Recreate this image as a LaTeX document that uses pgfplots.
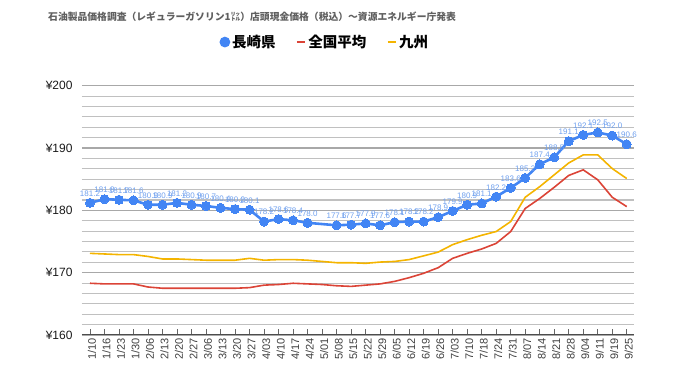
\documentclass[border=0pt]{standalone}
\usepackage{pgfplots}
\pgfplotsset{compat=1.18}
\usepackage{fontspec}
\setmainfont{Liberation Sans}
\newfontfamily\cjk{Noto Sans CJK JP}
\definecolor{nagasaki}{HTML}{4285F4}
\definecolor{zenkoku}{HTML}{DB4437}
\definecolor{kyushu}{HTML}{F4B400}
\definecolor{lbl}{HTML}{6FA0EE}
\definecolor{ttl}{HTML}{5F5F5F}
\definecolor{majgrid}{HTML}{A8A8A8}
\definecolor{mingrid}{HTML}{C0C0C0}

\pgfplotstableread{
x y
0 181.2
1 181.8
2 181.7
3 181.6
4 180.9
5 180.9
6 181.2
7 180.9
8 180.7
9 180.4
10 180.2
11 180.1
12 178.2
13 178.6
14 178.4
15 178.0
17 177.6
18 177.7
19 177.9
20 177.6
21 178.1
22 178.2
23 178.2
24 178.9
25 179.9
26 180.9
27 181.1
28 182.2
29 183.6
30 185.2
31 187.4
32 188.5
33 191.1
34 192.1
35 192.5
36 192.0
37 190.6
}\nagasakitbl

\pgfplotstableread{
x y
0 168.3
1 168.2
2 168.2
3 168.2
4 167.7
5 167.5
6 167.5
7 167.5
8 167.5
9 167.5
10 167.5
11 167.6
12 168.0
13 168.1
14 168.3
15 168.2
16 168.1
17 167.9
18 167.8
19 168.0
20 168.2
21 168.6
22 169.2
23 169.9
24 170.8
25 172.3
26 173.1
27 173.8
28 174.7
29 176.6
30 180.3
31 181.9
32 183.7
33 185.6
34 186.5
35 184.9
36 182.1
37 180.6
}\zenkokutbl

\pgfplotstableread{
x y
0 173.1
1 173.0
2 172.9
3 172.9
4 172.6
5 172.2
6 172.2
7 172.1
8 172.0
9 172.0
10 172.0
11 172.3
12 172.0
13 172.1
14 172.1
15 172.0
16 171.8
17 171.6
18 171.6
19 171.5
20 171.7
21 171.8
22 172.1
23 172.7
24 173.3
25 174.5
26 175.3
27 176.0
28 176.6
29 178.2
30 182.1
31 183.8
32 185.7
33 187.6
34 188.9
35 188.9
36 186.7
37 185.1
}\kyushutbl

\begin{document}
\begin{tikzpicture}
\begin{axis}[
  anchor=south west, at={(0pt,0pt)},
  scale only axis, width=552pt, height=249.3pt,
  xmin=-0.55, xmax=37.5, ymin=160, ymax=200,
  axis x line=bottom, axis y line=left,
  x axis line style={-, draw=black!70, line width=1pt},
  y axis line style={draw=none},
  xtick={0,...,37},
  xticklabels={1/10,1/16,1/23,1/30,2/06,2/13,2/20,2/27,3/06,3/13,3/20,3/27,4/03,4/10,4/17,4/24,5/01,5/08,5/15,5/22,5/29,6/05,6/12,6/19,6/26,7/03,7/10,7/18,7/24,7/31,8/07,8/14,8/21,8/28,9/04,9/11,9/19,9/25},
  xtick align=inside,
  ytick align=outside,
  major tick length=6pt,
  minor tick length=0pt,
  xtick style={draw=black!60, line width=0.6pt},
  xticklabel style={rotate=90, anchor=east, yshift=-2pt, font=\fontsize{11}{12}\selectfont, text=black!75},
  ytick={160,170,180,190,200},
  yticklabels={¥160,¥170,¥180,¥190,¥200},
  minor ytick={161.6667,163.3333,165,166.6667,168.3333,171.6667,173.3333,175,176.6667,178.3333,181.6667,183.3333,185,186.6667,188.3333,191.6667,193.3333,195,196.6667,198.3333},
  ytick style={draw=white},
  yticklabel style={font=\fontsize{12}{14}\selectfont, text=black!90},
  ymajorgrids, yminorgrids,
  major grid style={draw=majgrid, line width=1.1pt},
  minor grid style={draw=mingrid, line width=1.1pt},
  clip=false,
  legend columns=3,
  legend style={at={(0.44,1.175)}, anchor=center, draw=none, fill=none,
    font=\cjk\bfseries\fontsize{14.5}{16}\selectfont,
    /tikz/every even column/.append style={column sep=18pt}},
]
\pgfplotsinvokeforeach{161.6667,163.3333,165,166.6667,168.3333,171.6667,173.3333,175,176.6667,178.3333,181.6667,183.3333,185,186.6667,188.3333,191.6667,193.3333,195,196.6667,198.3333}{
  \draw[mingrid, line width=1.1pt] (axis cs:-0.55,#1) -- (axis cs:37.5,#1);
}
\addplot[nagasaki, line width=2.6pt, mark=*, mark size=4.5pt,
  mark options={fill=nagasaki, draw=nagasaki, line width=0pt},
  nodes near coords={\pgfmathprintnumber[fixed,fixed zerofill,precision=1,assume math mode=true]{\pgfplotspointmeta}},
  nodes near coords style={font=\fontsize{8}{9}\selectfont, text=lbl, anchor=south, inner sep=0.5pt, yshift=6pt},
  legend image code/.code={\fill[nagasaki] (0.18cm,0) circle (4pt);}]
  table[x=x,y=y] {\nagasakitbl};
\addlegendentry{長崎県}
\addplot[zenkoku, line width=1.6pt,
  legend image code/.code={\draw[zenkoku, line width=2.2pt] (0,0) -- (0.3cm,0);}]
  table[x=x,y=y] {\zenkokutbl};
\addlegendentry{全国平均}
\addplot[kyushu, line width=1.6pt,
  legend image code/.code={\draw[kyushu, line width=2.2pt] (0,0) -- (0.3cm,0);}]
  table[x=x,y=y] {\kyushutbl};
\addlegendentry{九州}
\end{axis}
\node[anchor=west, inner sep=0, text=ttl, font=\cjk\bfseries\fontsize{9.8}{12}\selectfont] at (-34pt,318pt)
  {石油製品価格調査（レギュラーガソリン1㍑）店頭現金価格（税込）～資源エネルギー庁発表};
\pgfresetboundingbox
\useasboundingbox (-82pt,-47pt) rectangle (598pt,335pt);
\end{tikzpicture}
\end{document}
